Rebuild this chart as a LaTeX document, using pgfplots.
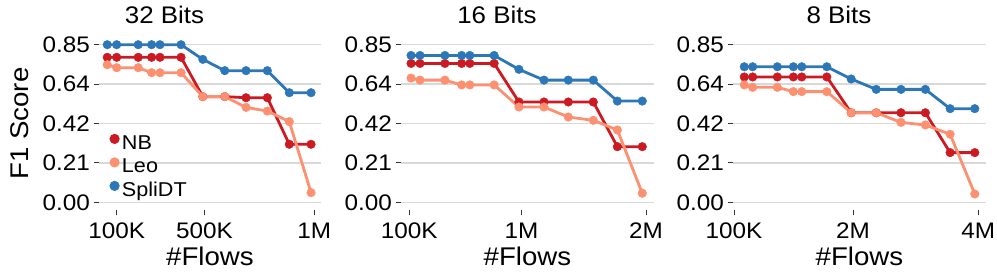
\documentclass[border=0pt]{standalone}
\usepackage{fontspec}
\setmainfont{Liberation Sans}[FakeStretch=1.08]
\usepackage{pgfplots}
\pgfplotsset{compat=1.18}
\definecolor{cNB}{HTML}{CB1A22}
\definecolor{cLeo}{HTML}{FC9070}
\definecolor{cSp}{HTML}{2C77B8}
\pgfplotsset{
  myax/.style={
    scale only axis, height=173pt,
    anchor=south west,
    ymin=-0.0415, ymax=0.8915,
    axis lines*=left, axis line style={draw=none},
    tick align=outside, major tick length=5pt,
    tick style={black!80, line width=0.9pt},
    ytick={0,0.2125,0.425,0.6375,0.85},
    yticklabels={0.00,0.21,0.42,0.64,0.85},
    ymajorgrids, grid style={color=black!15, line width=1.3pt},
    font=\fontsize{25.6}{30}\selectfont,
    tick label style={font=\fontsize{22.5}{26}\selectfont},
    yticklabel style={anchor=east, inner sep=0pt, xshift=-4pt},
    xticklabel style={anchor=base, inner sep=0pt, yshift=-23pt},
    /pgf/number format/assume math mode=true,
    title style={anchor=base, inner sep=0pt, yshift=7.7pt, font=\fontsize{24}{28}\selectfont},
    xlabel={\#Flows},
    xlabel style={at={(axis description cs:0.5,0)}, anchor=base, inner sep=0pt, yshift=-55pt, font=\fontsize{25.6}{30}\selectfont},
    every axis plot/.append style={line width=2.8pt, mark=*, mark size=4.3pt, mark options={line width=0.4pt}},
    clip=false,
  }
}
\begin{document}
\begin{tikzpicture}
\useasboundingbox (0,0) rectangle (997pt,277pt);
% Panel 1: 32 Bits
\begin{axis}[myax, at={(99pt,67pt)}, width=222pt,
  xmin=19.4, xmax=1030.3,
  xtick={100,500,1000}, xticklabels={100K,500K,1M},
  title={32 Bits}, title style={at={(axis description cs:0.295,1)}},
  legend style={at={(axis description cs:0.045,0.441)}, anchor=north west, draw=none, fill=none,
    font=\fontsize{20}{22}\selectfont, inner sep=0pt, row sep=4pt,
    nodes={inner sep=0pt, text height=14pt, text depth=4pt}},
  legend cell align=left,
  legend image code/.code={\fill[#1] (4pt,5.5pt) circle (3.6pt); \path (0pt,0pt) (10pt,0pt);},
]
\addplot[color=cNB] coordinates {(57,0.782)(100,0.782)(198,0.782)(259,0.782)(297,0.782)(393,0.782)(492,0.570)(592,0.570)(689,0.564)(786,0.564)(886,0.313)(985,0.313)};
\addlegendentry{NB}
\addplot[color=cLeo] coordinates {(57,0.742)(100,0.726)(198,0.726)(259,0.699)(297,0.699)(393,0.699)(492,0.570)(592,0.570)(689,0.512)(786,0.492)(886,0.435)(985,0.052)};
\addlegendentry{Leo}
\addplot[color=cSp] coordinates {(57,0.85)(100,0.85)(198,0.85)(259,0.85)(297,0.85)(393,0.85)(492,0.771)(592,0.710)(689,0.710)(786,0.710)(886,0.591)(985,0.591)};
\addlegendentry{SpliDT}
\end{axis}
% Panel 2: 16 Bits
\begin{axis}[myax, at={(401pt,67pt)}, width=253pt,
  xmin=33.4, xmax=2064,
  xtick={100,1000,2000}, xticklabels={100K,1M,2M},
  title={16 Bits}, title style={at={(axis description cs:0.379,1)}},
]
\addplot[color=cNB] coordinates {(114,0.749)(186,0.749)(386,0.749)(520,0.749)(586,0.749)(781,0.749)(980,0.541)(1181,0.541)(1376,0.541)(1577,0.541)(1770,0.300)(1970,0.300)};
\addplot[color=cLeo] coordinates {(114,0.670)(186,0.659)(386,0.659)(520,0.633)(586,0.633)(781,0.633)(980,0.514)(1181,0.514)(1376,0.460)(1577,0.442)(1770,0.390)(1970,0.049)};
\addplot[color=cSp] coordinates {(114,0.792)(186,0.792)(386,0.792)(520,0.792)(586,0.792)(781,0.792)(980,0.717)(1181,0.659)(1376,0.659)(1577,0.659)(1770,0.546)(1970,0.546)};
\end{axis}
% Panel 3: 8 Bits
\begin{axis}[myax, at={(733pt,67pt)}, width=253pt,
  xmin=84, xmax=4123,
  xtick={100,2000,4000}, xticklabels={100K,2M,4M},
  title={8 Bits}, title style={at={(axis description cs:0.419,1)}},
]
\addplot[color=cNB] coordinates {(264,0.676)(398,0.676)(792,0.676)(1048,0.676)(1182,0.676)(1582,0.676)(1971,0.483)(2371,0.483)(2766,0.483)(3155,0.483)(3550,0.268)(3944,0.268)};
\addplot[color=cLeo] coordinates {(264,0.633)(398,0.620)(792,0.620)(1048,0.597)(1182,0.597)(1582,0.597)(1971,0.483)(2371,0.483)(2766,0.431)(3155,0.417)(3550,0.367)(3944,0.045)};
\addplot[color=cSp] coordinates {(264,0.731)(398,0.731)(792,0.731)(1048,0.731)(1182,0.731)(1582,0.731)(1971,0.665)(2371,0.609)(2766,0.609)(3155,0.609)(3550,0.505)(3944,0.505)};
\end{axis}
\node[rotate=90, anchor=base, font=\fontsize{25.6}{30}\selectfont, inner sep=0pt] at (28pt,153.5pt) {F1 Score};
\end{tikzpicture}
\end{document}
